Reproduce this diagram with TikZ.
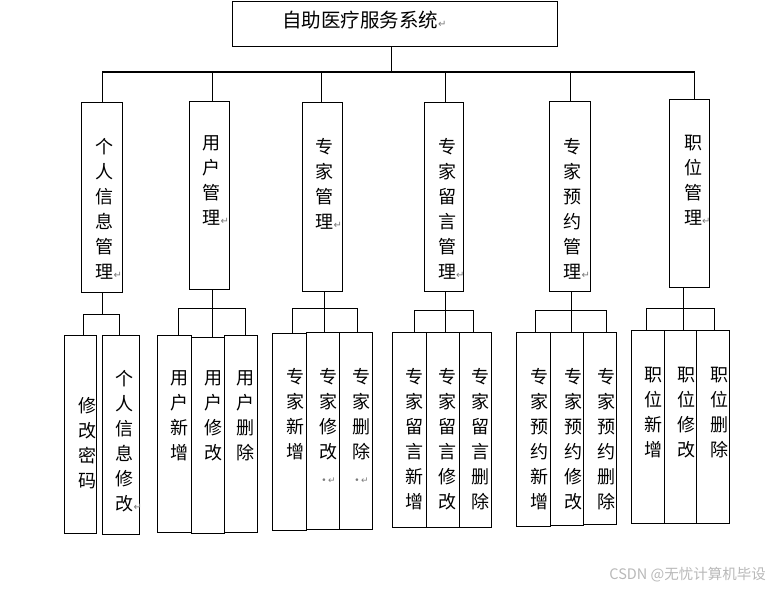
\documentclass[tikz,border=0pt]{standalone}
\usepackage{fontspec}
\setmainfont{Noto Sans CJK SC}
\newfontfamily\symfont{DejaVu Sans}
\usepackage{xcolor}
\usetikzlibrary{positioning}
\definecolor{markgray}{HTML}{7A7A7A}
\definecolor{wmgray}{HTML}{B8B8B8}
\newcommand{\ret}{\rlap{\textcolor{markgray}{\symfont\fontsize{10}{10}\selectfont ↵}}}
\newcommand{\dotret}{\textcolor{markgray}{\symfont\fontsize{9}{9}\selectfont •\,↵}}

\begin{document}
\begin{tikzpicture}[
  x=1pt, y=-1pt,
  box/.style={draw, line width=1.1pt, inner sep=0pt, anchor=north west},
  lbl/.style={inner sep=0pt, align=center, font=\fontsize{18}{25}\selectfont},
  wire/.style={line width=1.1pt}
]
  \useasboundingbox (0,0) rectangle (772,589);

  \node[box, minimum width=325, minimum height=45] (sys) at (232,1) {};
  \node[inner sep=0pt, font=\fontsize{19.5}{24}\selectfont] (systxt) at (360,20) {自助医疗服务系统\ret};

  \node[box, minimum width=41, minimum height=190] (m1) at (81,102) {};
  \node[box, minimum width=40, minimum height=188] (m2) at (189,101) {};
  \node[box, minimum width=40, minimum height=189] (m3) at (302,102) {};
  \node[box, minimum width=39, minimum height=189] (m4) at (424,102) {};
  \node[box, minimum width=41, minimum height=190] (m5) at (549,101) {};
  \node[box, minimum width=40, minimum height=188] (m6) at (669,99) {};
  \node[lbl, below=36pt of m1.north, xshift=2.5pt] (t1) {个\\人\\信\\息\\管\\理\ret};
  \node[lbl, below=34pt of m2.north, xshift=2pt] (t2) {用\\户\\管\\理\ret};
  \node[lbl, below=36pt of m3.north, xshift=2pt] (t3) {专\\家\\管\\理\ret};
  \node[lbl, below=36pt of m4.north, xshift=3pt] (t4) {专\\家\\留\\言\\管\\理\ret};
  \node[lbl, below=37pt of m5.north, xshift=2.5pt] (t5) {专\\家\\预\\约\\管\\理\ret};
  \node[lbl, below=36pt of m6.north, xshift=3.5pt] (t6) {职\\位\\管\\理\ret};

  \draw[wire] (m1.north) -- ++(0,-30) coordinate (bus) -| ([xshift=5pt]m6.north);
  \draw[wire] ([xshift=-4pt]sys.south) -- ([xshift=-4pt]sys.south |- bus);
  \draw[wire] ([xshift=3pt]m2.north) -- ([xshift=3pt]m2.north |- bus);
  \draw[wire] ([xshift=-1pt]m3.north) -- ([xshift=-1pt]m3.north |- bus);
  \draw[wire] ([xshift=1.5pt]m4.north) -- ([xshift=1.5pt]m4.north |- bus);
  \draw[wire] (m5.north) -- (m5.north |- bus);

  \node[box, minimum width=32, minimum height=198] (a1) at (64,335) {};
  \node[box, minimum width=37, minimum height=199] (a2) at (102,335) {};
  \node[lbl, below=62pt of a1.north, xshift=7pt] (ta1) {修\\改\\密\\码};
  \node[lbl, below=35pt of a2.north, xshift=3.5pt] (ta2) {个\\人\\信\\息\\修\\改\ret};

  \node[box, minimum width=34, minimum height=197] (b1) at (157,335) {};
  \node[box, minimum width=33, minimum height=196] (b2) at (191,337) {};
  \node[box, minimum width=33, minimum height=197] (b3) at (224,335) {};
  \node[lbl, below=35pt of b1.north, xshift=4.5pt] (tb1) {用\\户\\新\\增};
  \node[lbl, below=33pt of b2.north, xshift=5pt] (tb2) {用\\户\\修\\改};
  \node[lbl, below=35pt of b3.north, xshift=4.5pt] (tb3) {用\\户\\删\\除};

  \node[box, minimum width=34, minimum height=197] (c1) at (272,333) {};
  \node[box, minimum width=33, minimum height=197] (c2) at (306,332) {};
  \node[box, minimum width=33, minimum height=197] (c3) at (339,332) {};
  \node[lbl, below=35pt of c1.north, xshift=6pt] (tc1) {专\\家\\新\\增};
  \node[lbl, below=36pt of c2.north, xshift=5.5pt] (tc2) {专\\家\\修\\改\\\dotret};
  \node[lbl, below=36pt of c3.north, xshift=5.5pt] (tc3) {专\\家\\删\\除\\\dotret};

  \node[box, minimum width=34, minimum height=195] (d1) at (392,332) {};
  \node[box, minimum width=33, minimum height=195] (d2) at (426,332) {};
  \node[box, minimum width=32, minimum height=195] (d3) at (459,332) {};
  \node[lbl, below=36pt of d1.north, xshift=5pt] (td1) {专\\家\\留\\言\\新\\增};
  \node[lbl, below=36pt of d2.north, xshift=4.5pt] (td2) {专\\家\\留\\言\\修\\改};
  \node[lbl, below=36pt of d3.north, xshift=5pt] (td3) {专\\家\\留\\言\\删\\除};

  \node[box, minimum width=34, minimum height=194] (e1) at (516,332) {};
  \node[box, minimum width=33, minimum height=193] (e2) at (550,332) {};
  \node[box, minimum width=33, minimum height=192] (e3) at (583,332) {};
  \node[lbl, below=36pt of e1.north, xshift=6pt] (te1) {专\\家\\预\\约\\新\\增};
  \node[lbl, below=36pt of e2.north, xshift=6.5pt] (te2) {专\\家\\预\\约\\修\\改};
  \node[lbl, below=36pt of e3.north, xshift=6.5pt] (te3) {专\\家\\预\\约\\删\\除};

  \node[box, minimum width=33, minimum height=193] (f1) at (631,330) {};
  \node[box, minimum width=32, minimum height=193] (f2) at (664,330) {};
  \node[box, minimum width=33, minimum height=193] (f3) at (696,330) {};
  \node[lbl, below=37pt of f1.north, xshift=5.5pt] (tf1) {职\\位\\新\\增};
  \node[lbl, below=37pt of f2.north, xshift=6pt] (tf2) {职\\位\\修\\改};
  \node[lbl, below=37pt of f3.north, xshift=6.5pt] (tf3) {职\\位\\删\\除};

  \draw[wire] (m1.south) -- ++(0,21) coordinate (hubA);
  \draw[wire] ([xshift=3pt]a1.north) |- (hubA) -| ([xshift=-1.5pt]a2.north);

  \draw[wire] ([xshift=3pt]m2.south) -- ++(0,18) coordinate (hubB);
  \draw[wire] ([xshift=4pt]b1.north) |- (hubB) -| ([xshift=4.5pt]b3.north);
  \draw[wire] (hubB) -- (hubB |- b2.north);

  \draw[wire] ([xshift=2pt]m3.south) -- ++(0,16) coordinate (hubC);
  \draw[wire] ([xshift=3pt]c1.north) |- (hubC) -| ([xshift=1.5pt]c3.north);
  \draw[wire] (hubC) -- (hubC |- c2.north);

  \draw[wire] ([xshift=1pt]m4.south) -- ++(0,18) coordinate (hubD);
  \draw[wire] ([xshift=5pt]d1.north) |- (hubD) -| ([xshift=-2pt]d3.north);
  \draw[wire] (hubD) -- (hubD |- d2.north);

  \draw[wire] ([xshift=1.5pt]m5.south) -- ++(0,18) coordinate (hubE);
  \draw[wire] ([xshift=2pt]e1.north) |- (hubE) -| ([xshift=6.5pt]e3.north);
  \draw[wire] (hubE) -- (hubE |- e2.north);

  \draw[wire] ([xshift=-6pt]m6.south) -- ++(0,20) coordinate (hubF);
  \draw[wire] ([xshift=-1.5pt]f1.north) |- (hubF) -| ([xshift=1.5pt]f3.north);
  \draw[wire] (hubF) -- (hubF |- f2.north);

  \node[anchor=east, inner sep=0pt, text=wmgray, font=\fontsize{14.5}{14.5}\selectfont] (wm) at (766,575) {CSDN @无忧计算机毕设};
\end{tikzpicture}
\end{document}
